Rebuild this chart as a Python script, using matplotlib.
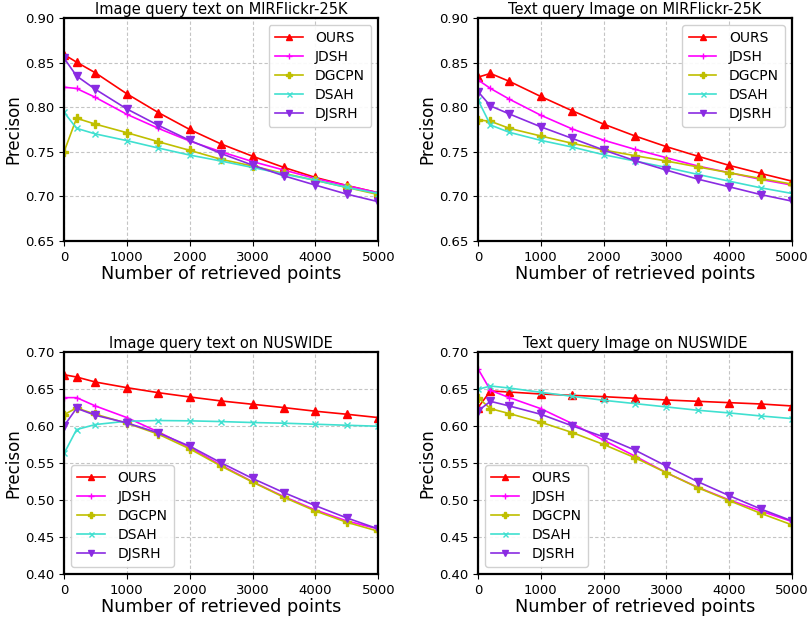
import numpy as np
import matplotlib
matplotlib.use("Agg")
import matplotlib.pyplot as plt

# retrieved points on the x axis
points = [1, 200, 500, 1000, 1500, 2000, 2500, 3000, 3500, 4000, 4500, 5000]
methods = ["OURS", "JDSH", "DGCPN", "DSAH", "DJSRH"]

# --- Image query text on MIRFlickr-25K ---
mir_i2t_ours = [0.859, 0.8505, 0.8385, 0.815, 0.794, 0.775, 0.7587, 0.745, 0.7324, 0.7212, 0.7122, 0.704]
mir_i2t_jdsh = [0.8224, 0.821, 0.811, 0.792, 0.7763, 0.762, 0.750, 0.739, 0.7295, 0.720, 0.712, 0.704]
mir_i2t_dgcpn = [0.750, 0.7876, 0.781, 0.7714, 0.7613, 0.7516, 0.7415, 0.734, 0.7257, 0.718, 0.710, 0.702]
mir_i2t_dsah = [0.7943, 0.7763, 0.770, 0.7625, 0.7542, 0.7463, 0.7396, 0.7324, 0.725, 0.718, 0.710, 0.7032]
mir_i2t_djsrh = [0.855, 0.835, 0.820, 0.798, 0.7797, 0.7628, 0.748, 0.735, 0.723, 0.7126, 0.7025, 0.694]

# --- Text query Image on MIRFlickr-25K ---
mir_t2i_ours = [0.8337, 0.8378, 0.829, 0.812, 0.796, 0.781, 0.7677, 0.7557, 0.745, 0.7347, 0.7257, 0.717]
mir_t2i_jdsh = [0.8306, 0.821, 0.809, 0.791, 0.7756, 0.763, 0.7527, 0.7433, 0.734, 0.7265, 0.719, 0.7126]
mir_t2i_dgcpn = [0.7857, 0.7842, 0.7763, 0.7677, 0.7595, 0.752, 0.7456, 0.7396, 0.733, 0.7265, 0.720, 0.7137]
mir_t2i_dsah = [0.8082, 0.780, 0.7718, 0.7628, 0.7553, 0.7467, 0.7396, 0.7324, 0.7246, 0.717, 0.7096, 0.7032]
mir_t2i_djsrh = [0.8175, 0.8014, 0.7924, 0.778, 0.765, 0.752, 0.740, 0.7294, 0.7193, 0.7107, 0.702, 0.6946]

# --- Image query text on NUSWIDE ---
nus_i2t_ours = [0.6694, 0.6663, 0.6595, 0.6519, 0.6451, 0.6393, 0.6339, 0.6294, 0.6249, 0.620, 0.6159, 0.6114]
nus_i2t_jdsh = [0.6384, 0.6384, 0.6271, 0.6114, 0.592, 0.5709, 0.547, 0.5246, 0.5044, 0.4864, 0.4715, 0.4607]
nus_i2t_dgcpn = [0.6154, 0.6244, 0.6159, 0.6038, 0.589, 0.5691, 0.5457, 0.5241, 0.5035, 0.485, 0.4697, 0.4576]
nus_i2t_dsah = [0.5628, 0.5952, 0.602, 0.6065, 0.6074, 0.607, 0.606, 0.6047, 0.6038, 0.6024, 0.601, 0.5997]
nus_i2t_djsrh = [0.6002, 0.624, 0.6145, 0.6042, 0.5907, 0.5727, 0.5502, 0.529, 0.5098, 0.4922, 0.4756, 0.4607]

# --- Text query Image on NUSWIDE ---
nus_t2i_ours = [0.6249, 0.6474, 0.646, 0.6433, 0.6415, 0.6397, 0.6375, 0.6352, 0.6334, 0.6316, 0.6298, 0.6271]
nus_t2i_jdsh = [0.6775, 0.6483, 0.6384, 0.6235, 0.6033, 0.5808, 0.5592, 0.5367, 0.517, 0.4999, 0.485, 0.4706]
nus_t2i_dgcpn = [0.6384, 0.6235, 0.6168, 0.6051, 0.5912, 0.575, 0.557, 0.5367, 0.5165, 0.499, 0.4818, 0.4661]
nus_t2i_dsah = [0.6496, 0.6541, 0.6514, 0.6456, 0.6402, 0.6348, 0.6303, 0.6258, 0.6213, 0.6177, 0.6136, 0.610]
nus_t2i_djsrh = [0.6204, 0.6334, 0.6271, 0.6159, 0.6002, 0.5853, 0.5673, 0.5457, 0.5246, 0.5057, 0.4877, 0.4715]

panels = [
    ("Image query text on MIRFlickr-25K", [mir_i2t_ours, mir_i2t_jdsh, mir_i2t_dgcpn, mir_i2t_dsah, mir_i2t_djsrh], (0.65, 0.90), "upper right"),
    ("Text query Image on MIRFlickr-25K", [mir_t2i_ours, mir_t2i_jdsh, mir_t2i_dgcpn, mir_t2i_dsah, mir_t2i_djsrh], (0.65, 0.90), "upper right"),
    ("Image query text on NUSWIDE", [nus_i2t_ours, nus_i2t_jdsh, nus_i2t_dgcpn, nus_i2t_dsah, nus_i2t_djsrh], (0.40, 0.70), "lower left"),
    ("Text query Image on NUSWIDE", [nus_t2i_ours, nus_t2i_jdsh, nus_t2i_dgcpn, nus_t2i_dsah, nus_t2i_djsrh], (0.40, 0.70), "lower left"),
]

colors = ["red", "magenta", "y", "turquoise", "blueviolet"]
markers = ["^", "+", "P", "x", "v"]
msizes = [5.5, 5, 5.5, 4.5, 5.5]

fig = plt.figure(figsize=(8.1, 6.21), dpi=100)
boxes = [
    [0.079, 0.612, 0.388, 0.359],
    [0.590, 0.612, 0.388, 0.359],
    [0.079, 0.076, 0.388, 0.357],
    [0.590, 0.076, 0.388, 0.357],
]

for box, (title, series, ylim, loc) in zip(boxes, panels):
    ax = fig.add_axes(box)
    for name, vals, c, m, ms in zip(methods, series, colors, markers, msizes):
        ax.plot(points, vals, color=c, marker=m, markersize=ms, linewidth=1.2, label=name)
    ax.set_xlim(0, 5000)
    ax.set_ylim(*ylim)
    ax.set_xticks([0, 1000, 2000, 3000, 4000, 5000])
    ax.set_yticks(np.arange(ylim[0], ylim[1] + 0.001, 0.05))
    ax.yaxis.set_major_formatter(matplotlib.ticker.FormatStrFormatter("%.2f"))
    ax.tick_params(labelsize=9.5, direction="out", length=3.5)
    ax.grid(True, linestyle=(0, (3, 2)), linewidth=0.8, color="#c4c4c4")
    for s in ax.spines.values():
        s.set_linewidth(1.6)
    ax.set_title(title, fontsize=10.5, pad=3)
    ax.set_xlabel("Number of retrieved points", fontsize=12.7, labelpad=1)
    ax.set_ylabel("Precison", fontsize=12, labelpad=2)
    ax.legend(loc=loc, fontsize=10, numpoints=1, fancybox=True, framealpha=0.9,
              handlelength=2.0, borderpad=0.45, labelspacing=0.35, markerscale=0.8,
              handletextpad=0.9)

fig.savefig("out.png", dpi=100)
